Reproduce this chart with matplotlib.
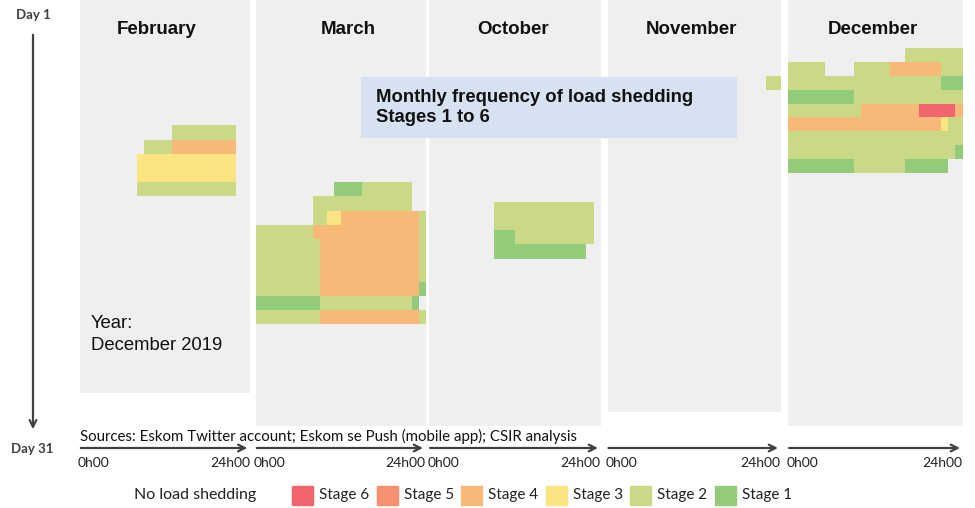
import numpy as np
import matplotlib
matplotlib.use("Agg")
import matplotlib.pyplot as plt
from matplotlib.colors import ListedColormap, BoundaryNorm
from matplotlib.patches import Rectangle, FancyArrowPatch

W, H = 975, 508

# load shedding runs: (first day, last day, start hour, end hour, stage)
feb_runs = [
    (10, 10, 13, 22, 2),
    (11, 11, 9, 13, 2), (11, 11, 13, 22, 4),
    (12, 13, 8, 22, 3),
    (14, 14, 8, 22, 2),
]
mar_runs = [
    (14, 14, 11, 15, 1), (14, 14, 15, 22, 2),
    (15, 15, 8, 22, 2),
    (16, 16, 8, 10, 2), (16, 16, 10, 12, 3), (16, 16, 12, 23, 4), (16, 16, 23, 24, 2),
    (17, 17, 0, 8, 2), (17, 17, 8, 23, 4), (17, 17, 23, 24, 2),
    (18, 20, 0, 9, 2), (18, 20, 9, 23, 4), (18, 20, 23, 24, 2),
    (21, 21, 0, 9, 2), (21, 21, 9, 23, 4), (21, 21, 23, 24, 1),
    (22, 22, 0, 9, 1), (22, 22, 9, 22, 2), (22, 22, 22, 23, 1),
    (23, 23, 0, 9, 2), (23, 23, 9, 23, 4), (23, 23, 23, 24, 2),
]
oct_runs = [
    (15, 16, 9, 23, 2),
    (17, 17, 9, 12, 1), (17, 17, 12, 23, 2),
    (18, 18, 9, 22, 1),
]
nov_runs = [
    (6, 6, 22, 24, 2),
]
dec_runs = [
    (4, 4, 16, 24, 2),
    (5, 5, 0, 5, 2), (5, 5, 9, 14, 2), (5, 5, 14, 21, 4), (5, 5, 21, 24, 2),
    (6, 6, 0, 21, 2), (6, 6, 21, 24, 1),
    (7, 7, 0, 9, 1), (7, 7, 9, 24, 2),
    (8, 8, 0, 10, 2), (8, 8, 10, 18, 4), (8, 8, 18, 23, 6), (8, 8, 23, 24, 4),
    (9, 9, 0, 21, 4), (9, 9, 21, 22, 3), (9, 9, 22, 24, 2),
    (10, 10, 0, 24, 2),
    (11, 11, 0, 23, 2), (11, 11, 23, 24, 1),
    (12, 12, 0, 9, 1), (12, 12, 9, 16, 2), (12, 12, 16, 22, 1),
]

months = ["February", "March", "October", "November", "December"]
month_runs = [feb_runs, mar_runs, oct_runs, nov_runs, dec_runs]
stage_colors = ["#93cb7a", "#cad985", "#fce482", "#f8b878", "#f7906f", "#f4646c"]  # stage 1..6
legend_stages = [6, 5, 4, 3, 2, 1]
hour_labels = ["0h00", "24h00"]
title_note = ["Monthly frequency of load shedding", "Stages 1 to 6"]
year_note = ["Year:", "December 2019"]
source_note = "Sources: Eskom Twitter account; Eskom se Push (mobile app); CSIR analysis"

# panel layout in pixels: left, right, bottom, y of day-1 row top, row height, title centre
panels = [
    (80, 250, 393, -2.5, 14.2, 157),
    (256, 425.7, 425.7, -2.5, 14.2, 348),
    (429.3, 600.7, 425.7, 2.9, 14.2, 513),
    (607.7, 780.7, 412.3, 5.0, 14.2, 691),
    (788.3, 962.7, 426, 5.8, 13.96, 873),
]

sans = "Liberation Sans"
small = "Lato"
ink = "#404040"


def grid(runs):
    g = np.full((31, 24), np.nan)
    for d0, d1, h0, h1, s in runs:
        g[d0 - 1:d1, h0:h1] = s
    return np.ma.masked_invalid(g)


cmap = ListedColormap(stage_colors)
norm = BoundaryNorm(np.arange(0.5, 7.5, 1), cmap.N)

fig = plt.figure(figsize=(W / 100, H / 100), dpi=100)

for name, runs, (x0, x1, yb, y0, rh, tc) in zip(months, month_runs, panels):
    ax = fig.add_axes([x0 / W, 1 - yb / H, (x1 - x0) / W, yb / H])
    ax.set_facecolor("#efefef")
    ax.pcolormesh(np.arange(25), np.arange(32), grid(runs), cmap=cmap, norm=norm)
    ax.set_xlim(0, 24)
    ax.set_ylim((yb - y0) / rh, -y0 / rh)
    ax.set_xticks([])
    ax.set_yticks([])
    for s in ax.spines.values():
        s.set_visible(False)

# overlay in pixel coordinates for annotations
ov = fig.add_axes([0, 0, 1, 1])
ov.set_xlim(0, W)
ov.set_ylim(H, 0)
ov.axis("off")

for name, (x0, x1, yb, y0, rh, tc) in zip(months, panels):
    ov.text(tc, 30, name, ha="center", va="center",
            fontsize=13.5, fontweight="bold", family=sans, color="#111111")
    ov.add_patch(FancyArrowPatch((x0 - 2, 448), (x1, 448), arrowstyle="->",
                                 mutation_scale=12, lw=1.6, color=ink))
    ov.text(x0 - 2, 463, hour_labels[0], ha="left", va="center",
            fontsize=10, family=small, color="#222222")
    ov.text(x1, 463, hour_labels[1], ha="right", va="center",
            fontsize=10, family=small, color="#222222")

# title box
ov.add_patch(Rectangle((361, 77), 375, 60, color="#d6e1f1", zorder=3))
ov.text(376, 97, title_note[0], va="center", fontsize=13.3, fontweight="bold",
        family=sans, color="#111111", zorder=4)
ov.text(376, 118, title_note[1], va="center", fontsize=13.3, fontweight="bold",
        family=sans, color="#111111", zorder=4)

ov.text(91, 323, year_note[0], va="center", fontsize=13.3, family=sans, color="#111111")
ov.text(91, 346, year_note[1], va="center", fontsize=13.3, family=sans, color="#111111")

# day axis
ov.add_patch(FancyArrowPatch((33, 32), (33, 432), arrowstyle="->",
                             mutation_scale=12, lw=1.6, color=ink))
ov.text(33, 15, "Day 1", ha="center", va="center", fontsize=9.5,
        fontweight="bold", family=small, color=ink)
ov.text(32, 449, "Day 31", ha="center", va="center", fontsize=9.5,
        fontweight="bold", family=small, color=ink)

ov.text(80, 436, source_note, va="center", fontsize=10.85, family=small, color="#111111")

# legend
ov.text(195, 495, "No load shedding", ha="center", va="center",
        fontsize=11.5, family=small, color="#222222")
for i, st in enumerate(legend_stages):
    lx = 292 + i * 84.6
    ov.add_patch(Rectangle((lx, 486), 21, 18.5, color=stage_colors[st - 1]))
    ov.text(lx + 27, 495, "Stage %d" % st, va="center", fontsize=11,
            family=small, color="#222222")

fig.savefig("out.png", dpi=100)
